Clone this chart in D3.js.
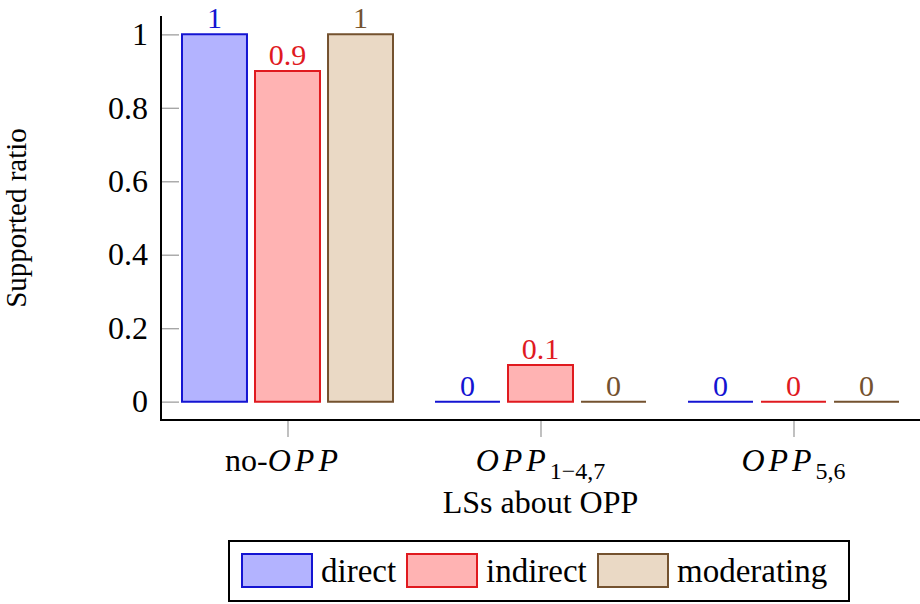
<!DOCTYPE html>
<html>
<head>
<meta charset="utf-8">
<script src="https://cdn.jsdelivr.net/npm/d3@7"></script>
</head>
<body style="margin:0">
<div class="chart-svg"></div>
<script>
// data
var categories = ['noOPP', 'OPP147', 'OPP56'];
var seriesNames = ['direct', 'indirect', 'moderating'];
var direct = [1, 0, 0];
var indirect = [0.9, 0.1, 0];
var moderating = [1, 0, 0];
var yTicks = [0, 0.2, 0.4, 0.6, 0.8, 1];

var seriesValues = { direct: direct, indirect: indirect, moderating: moderating };
var strokeColors = { direct: '#1414d2', indirect: '#e01a1f', moderating: '#74522f' };
var fillColors = { direct: '#b3b3ff', indirect: '#ffb3b3', moderating: '#ead9c5' };

var serif = "'Liberation Serif'";
var svgWidth = 920;
var svgHeight = 604;

var svg = d3.select('.chart-svg')
    .append('svg')
    .attr('width', svgWidth)
    .attr('height', svgHeight)
    .style('font-family', serif);

var plot = { left: 161, right: 920, top: 16, bottom: 420 };

var xScale = d3.scalePoint()
    .domain(categories)
    .range([plot.left, plot.right])
    .padding(0.5);

var inner = d3.scaleBand()
    .domain(seriesNames)
    .range([-105.5, 105.5])
    .paddingInner(0.11);

var yScale = d3.scaleLinear()
    .domain([-0.05, 1.05])
    .range([plot.bottom, plot.top]);

// y axis, ticks pointing inward
var yAxis = d3.axisLeft(yScale)
    .tickValues(yTicks)
    .tickFormat(function(d){ return d3.format('')(+d.toFixed(1)); })
    .tickSizeInner(-18)
    .tickSizeOuter(0)
    .tickPadding(13);

var gy = svg.append('g')
    .attr('transform', 'translate(' + plot.left + ',0)')
    .call(yAxis)
    .attr('font-family', null)
    .attr('font-size', null);
gy.selectAll('.tick line').attr('stroke', '#a6a6a6').attr('stroke-width', 1.4);
gy.selectAll('.tick text')
    .attr('fill', '#000')
    .style('font-family', serif)
    .style('font-size', '32px');
gy.select('.domain').remove();

var xAxis = d3.axisBottom(xScale)
    .tickSizeInner(17)
    .tickSizeOuter(0)
    .tickFormat('');

var gx = svg.append('g')
    .attr('transform', 'translate(0,' + plot.bottom + ')')
    .call(xAxis);
gx.selectAll('.tick line').attr('stroke', '#a6a6a6').attr('stroke-width', 1.4);
gx.select('.domain').remove();

// bars
var barData = [];
categories.forEach(function(c, i){
    seriesNames.forEach(function(s){
        barData.push({ cat: c, series: s, value: seriesValues[s][i] });
    });
});

var bars = svg.append('g').attr('class', 'bars');
bars.selectAll('path')
    .data(barData)
    .enter()
    .append('path')
    .attr('d', function(d){
        var x0 = xScale(d.cat) + inner(d.series);
        var x1 = x0 + inner.bandwidth();
        var y0 = yScale(0);
        var y1 = yScale(d.value);
        return 'M' + x0 + ',' + y0 + 'V' + y1 + 'H' + x1 + 'V' + y0 + 'Z';
    })
    .attr('fill', function(d){ return fillColors[d.series]; })
    .attr('stroke', function(d){ return strokeColors[d.series]; })
    .attr('stroke-width', 2);

bars.selectAll('text')
    .data(barData)
    .enter()
    .append('text')
    .attr('x', function(d){ return xScale(d.cat) + inner(d.series) + inner.bandwidth() / 2; })
    .attr('y', function(d){ return yScale(d.value) - 6; })
    .attr('text-anchor', 'middle')
    .style('font-family', serif)
    .style('font-size', '30px')
    .attr('fill', function(d){ return strokeColors[d.series]; })
    .text(function(d){ return d3.format('')(d.value); });

// axis lines
svg.append('line')
    .attr('x1', plot.left).attr('x2', plot.left)
    .attr('y1', plot.top).attr('y2', plot.bottom + 1)
    .attr('stroke', '#000').attr('stroke-width', 2);
svg.append('line')
    .attr('x1', plot.left - 1).attr('x2', plot.right)
    .attr('y1', plot.bottom).attr('y2', plot.bottom)
    .attr('stroke', '#000').attr('stroke-width', 2);

function label(x, y, size){
    return svg.append('text')
        .attr('x', x).attr('y', y)
        .attr('text-anchor', 'middle')
        .style('font-family', serif)
        .style('font-size', size + 'px');
}

// x tick labels with math parts
var labelY = 471;
var t1 = label(xScale('noOPP') - 4, labelY, 32);
t1.append('tspan').text('no-');
t1.append('tspan').style('font-style', 'italic').attr('letter-spacing', 4).text('OPP');

var t2 = label(xScale('OPP147'), labelY, 32);
t2.append('tspan').style('font-style', 'italic').attr('letter-spacing', 4).text('OPP');
t2.append('tspan').style('font-size', '24px').attr('dy', 8).text('1\u22124,7');

var t3 = label(xScale('OPP56'), labelY, 32);
t3.append('tspan').style('font-style', 'italic').attr('letter-spacing', 4).text('OPP');
t3.append('tspan').style('font-size', '24px').attr('dy', 8).text('5,6');

// axis titles
label(xScale('OPP147'), 513, 32).text('LSs about OPP');

label(0, 0, 29)
    .attr('transform', 'translate(26,' + (plot.top + plot.bottom) / 2 + ') rotate(-90)')
    .text('Supported ratio');

// legend
var legend = svg.append('g').attr('class', 'legend');
legend.append('rect')
    .attr('x', 229).attr('y', 541)
    .attr('width', 620).attr('height', 60)
    .attr('fill', '#fff').attr('stroke', '#000').attr('stroke-width', 2);

var legendX = [242, 407, 598];
seriesNames.forEach(function(s, i){
    legend.append('rect')
        .attr('x', legendX[i]).attr('y', 554)
        .attr('width', 70).attr('height', 33)
        .attr('fill', fillColors[s])
        .attr('stroke', strokeColors[s])
        .attr('stroke-width', 2);
    legend.append('text')
        .attr('x', legendX[i] + 79)
        .attr('y', 582)
        .style('font-family', serif)
        .style('font-size', '33px')
        .text(s);
});
</script>
</body>
</html>
